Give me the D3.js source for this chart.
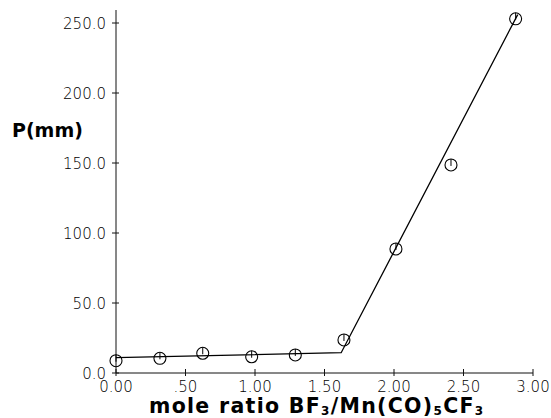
<!DOCTYPE html>
<html>
<head>
<meta charset="utf-8">
<script src="https://cdn.jsdelivr.net/npm/d3@7"></script>
<style>
  html, body { margin: 0; padding: 0; background: #fff; }
  svg { display: block; }
  .tick-label { font-family: "DejaVu Sans", sans-serif; font-weight: 200; font-size: 15px; fill: #000; }
  .title { font-family: "DejaVu Sans", sans-serif; font-weight: bold; fill: #000; }
</style>
</head>
<body>
<svg id="chart" width="551" height="418"></svg>
<script>
// Data
const moleRatio = [0.00, 0.316, 0.624, 0.976, 1.29, 1.64, 2.014, 2.41, 2.875];
const pressure  = [8.8, 10.5, 14.1, 11.6, 12.9, 23.6, 88.6, 148.6, 253.0];
// Fitted line segments (break point and endpoints)
const fitX = [0.00, 1.62, 2.89];
const fitY = [11.0, 14.5, 256.0];
const xTicks = [0, 0.5, 1.0, 1.5, 2.0, 2.5, 3.0];
const xTickLabels = ["0.00", ".50", "1.00", "1.50", "2.00", "2.50", "3.00"];
const yTicks = [0, 50, 100, 150, 200, 250];
const yTickLabels = ["0.0", "50.0", "100.0", "150.0", "200.0", "250.0"];

const svg = d3.select("#chart");
const x = d3.scaleLinear().domain([0, 3]).range([116, 533]);
const y = d3.scaleLinear().domain([0, 250]).range([373, 23]);

// Y axis line
svg.append("line")
  .attr("x1", x(0)).attr("x2", x(0))
  .attr("y1", 10).attr("y2", y(0))
  .attr("stroke", "#111").attr("stroke-width", 1);
// X axis line
svg.append("line")
  .attr("x1", x(0)).attr("x2", x(3))
  .attr("y1", y(0)).attr("y2", y(0))
  .attr("stroke", "#111").attr("stroke-width", 1);

// Y ticks (crossing)
svg.selectAll(".ytick").data(yTicks).enter().append("line")
  .attr("x1", x(0) - 4).attr("x2", x(0) + 3)
  .attr("y1", d => y(d)).attr("y2", d => y(d))
  .attr("stroke", "#111").attr("stroke-width", 1);
svg.selectAll(".ylab").data(yTicks).enter().append("text")
  .attr("class", "tick-label")
  .attr("x", x(0) - 10)
  .attr("y", d => y(d) + 5.5)
  .attr("text-anchor", "end")
  .text((d, i) => yTickLabels[i]);

// X ticks (crossing)
svg.selectAll(".xtick").data(xTicks).enter().append("line")
  .attr("x1", d => x(d)).attr("x2", d => x(d))
  .attr("y1", y(0) - 4).attr("y2", y(0) + 3)
  .attr("stroke", "#111").attr("stroke-width", 1);
svg.selectAll(".xlab").data(xTicks).enter().append("text")
  .attr("class", "tick-label")
  .attr("x", d => x(d))
  .attr("y", 391.5)
  .attr("font-size", 14.5)
  .attr("text-anchor", "middle")
  .text((d, i) => xTickLabels[i]);

// Fit line
const line = d3.line().x(d => x(d[0])).y(d => y(d[1]));
svg.append("path")
  .datum(fitX.map((v, i) => [v, fitY[i]]))
  .attr("d", line)
  .attr("fill", "none")
  .attr("stroke", "#000")
  .attr("stroke-width", 1.3);

// Markers: circle with a short vertical stroke from top to centre
const pts = moleRatio.map((v, i) => [v, pressure[i]]);
const g = svg.selectAll(".pt").data(pts).enter().append("g");
g.append("circle")
  .attr("cx", d => x(d[0])).attr("cy", d => y(d[1]))
  .attr("r", 6)
  .attr("fill", "none").attr("stroke", "#000").attr("stroke-width", 1.1);
g.append("line")
  .attr("x1", d => x(d[0])).attr("x2", d => x(d[0]))
  .attr("y1", d => y(d[1]) - 6).attr("y2", d => y(d[1]) + 1)
  .attr("stroke", "#000").attr("stroke-width", 1);

// Y title
svg.append("text")
  .attr("class", "title")
  .attr("x", 12).attr("y", 137)
  .attr("font-size", 19)
  .text("P(mm)");

// X title with subscripts
const xt = svg.append("text")
  .attr("class", "title")
  .attr("x", 149).attr("y", 413)
  .attr("font-size", 20.5)
  .attr("letter-spacing", 1.3);
xt.append("tspan").text("mole ratio  BF");
xt.append("tspan").attr("font-size", 12).attr("dy", 2).text("3");
xt.append("tspan").attr("dy", -2).text("/Mn(CO)");
xt.append("tspan").attr("font-size", 12).attr("dy", 2).text("5");
xt.append("tspan").attr("dy", -2).text("CF");
xt.append("tspan").attr("font-size", 12).attr("dy", 2).text("3");
</script>
</body>
</html>
